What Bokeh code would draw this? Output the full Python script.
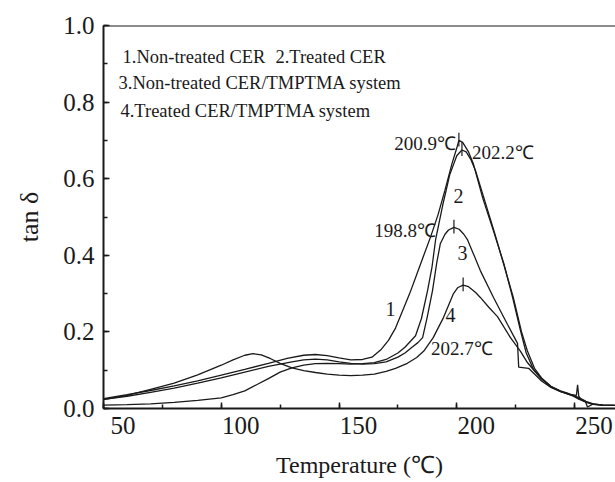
from bokeh.plotting import figure
from bokeh.models import Range1d, LinearAxis, SingleIntervalTicker, FixedTicker, PrintfTickFormatter, Span
from bokeh.core.properties import value
from bokeh.embed import file_html
from bokeh.resources import INLINE

# ---- data ----
t1 = [50, 60, 70, 80, 90, 100, 110, 120, 128, 135, 140, 145, 150, 155, 160, 164, 168, 171, 174, 177,
      180, 183, 186, 189, 192, 195, 198, 200, 200.9, 202.5, 205, 207, 211, 215.5, 220, 223.7, 227,
      229.5, 232.6, 236, 240, 244, 247, 249.5, 252, 255, 258, 262, 267]
v1 = [0.026, 0.036, 0.047, 0.059, 0.072, 0.087, 0.102, 0.118, 0.131, 0.139, 0.141, 0.138, 0.132, 0.127,
      0.128, 0.134, 0.155, 0.178, 0.21, 0.255, 0.30, 0.35, 0.40, 0.45, 0.505, 0.57, 0.64, 0.68, 0.70,
      0.695, 0.67, 0.64, 0.55, 0.465, 0.378, 0.29, 0.205, 0.145, 0.102, 0.078, 0.056, 0.045, 0.038,
      0.032, 0.024, 0.017, 0.011, 0.009, 0.008]

t2 = [50, 60, 70, 80, 90, 100, 105, 110, 115, 120, 125, 130, 135, 140, 145, 150, 155, 160, 165, 170,
      175, 178, 182.5, 185, 187.6, 189.5, 191, 194, 197, 200, 202.2, 204, 206, 208, 212, 216, 220, 224,
      227.5, 230, 233, 236, 240, 244, 247, 249.5, 252, 255, 258, 262, 267]
v2 = [0.009, 0.010, 0.012, 0.016, 0.021, 0.028, 0.036, 0.046, 0.062, 0.078, 0.095, 0.106, 0.113, 0.117,
      0.118, 0.117, 0.116, 0.117, 0.12, 0.128, 0.145, 0.16, 0.19, 0.235, 0.308, 0.37, 0.44, 0.53, 0.61,
      0.66, 0.675, 0.67, 0.65, 0.62, 0.54, 0.46, 0.375, 0.29, 0.2, 0.15, 0.105, 0.08, 0.058, 0.046,
      0.04, 0.034, 0.025, 0.018, 0.012, 0.009, 0.008]

t3 = [50, 60, 70, 80, 90, 100, 110, 120, 130, 135, 140, 145, 150, 155, 160, 165, 170, 175, 178, 181,
      183.5, 185.5, 187.5, 189.7, 191.5, 193, 195, 196.5, 198.8, 201, 203, 204.6, 207, 210, 215.6,
      221.5, 225.8, 226.3, 230.5, 233, 236, 240, 244, 248, 250, 252, 254.5, 255.5, 258, 262, 267]
v3 = [0.024, 0.032, 0.042, 0.053, 0.066, 0.08, 0.095, 0.11, 0.122, 0.127, 0.129, 0.127, 0.122, 0.118,
      0.116, 0.117, 0.122, 0.134, 0.145, 0.16, 0.172, 0.185, 0.24, 0.308, 0.38, 0.43, 0.455, 0.466,
      0.473, 0.468, 0.455, 0.44, 0.405, 0.36, 0.29, 0.22, 0.17, 0.108, 0.105, 0.09, 0.072, 0.055,
      0.044, 0.036, 0.033, 0.028, 0.02, 0.004, 0.012, 0.009, 0.008]

t4 = [50, 60, 70, 80, 90, 100, 105, 110, 113.5, 117, 121, 125, 130, 135, 140, 145, 150, 155, 160, 165,
      170, 174, 179, 183, 186, 190, 194.4, 198.6, 200.5, 202.7, 205, 208, 210, 213.5, 217.3, 222.8,
      227, 230, 233, 236, 240, 244, 248, 250.8, 251.3, 251.8, 253, 255, 258, 262, 267]
v4 = [0.023, 0.034, 0.05, 0.066, 0.088, 0.113, 0.127, 0.139, 0.143, 0.14, 0.13, 0.118, 0.106, 0.099,
      0.094, 0.09, 0.087, 0.086, 0.087, 0.09, 0.097, 0.105, 0.118, 0.133, 0.15, 0.185, 0.238, 0.30,
      0.316, 0.322, 0.318, 0.303, 0.29, 0.265, 0.24, 0.185, 0.15, 0.12, 0.098, 0.077, 0.057, 0.045,
      0.037, 0.034, 0.062, 0.032, 0.022, 0.016, 0.011, 0.009, 0.008]

peak_t = [200.9, 202.2, 198.8, 202.7]
peak_v = [0.70, 0.675, 0.473, 0.322]
peak_text = ["200.9\u2103", "202.2\u2103", "198.8\u2103", "202.7\u2103"]

curve_names = ["1", "2", "3", "4"]
curve_name_t = [171.9, 200.7, 202.4, 197.3]
curve_name_v = [0.261, 0.556, 0.407, 0.243]

legend_text = ["1.Non-treated CER", "2.Treated CER", "3.Non-treated CER/TMPTMA system",
               "4.Treated CER/TMPTMA system"]
legend_t = [58.1, 123.0, 56.4, 57.2]
legend_v = [0.919, 0.919, 0.851, 0.778]

x_ticks = [50, 100, 150, 200, 250]
x_label_shift = 8.3

FONT = "Liberation Serif"
INK = "#1a1a1a"

p = figure(width=615, height=482, output_backend="svg", toolbar_location=None,
           x_range=Range1d(50, 267.4), y_range=Range1d(0, 1),
           x_axis_location=None, y_axis_location="left",
           min_border_left=103, min_border_right=0, min_border_top=25, min_border_bottom=74)
p.outline_line_color = None
p.grid.visible = False
p.background_fill_color = "white"
p.border_fill_color = "white"

# bottom axis: line + ticks at true positions, no labels drawn
xa = LinearAxis(ticker=SingleIntervalTicker(interval=50, num_minor_ticks=2))
xa.major_label_text_color = None
xa.major_label_text_font_size = "1px"
xa.major_label_standoff = 0
p.add_layout(xa, "below")

# labels (offset to the right, as in the scan)
p.extra_x_ranges = {"lab": Range1d(50 - x_label_shift, 267.4 - x_label_shift)}
xl = LinearAxis(x_range_name="lab", ticker=FixedTicker(ticks=x_ticks))
xl.axis_line_color = None
xl.major_tick_line_color = None
xl.minor_tick_line_color = None
xl.major_label_standoff = 2
xl.major_label_text_font = FONT
xl.major_label_text_font_size = "25px"
xl.major_label_text_color = INK
xl.axis_label = "Temperature (\u2103)"
xl.axis_label_text_font = FONT
xl.axis_label_text_font_size = "24px"
xl.axis_label_text_font_style = "normal"
xl.axis_label_text_color = INK
xl.axis_label_standoff = 15
p.add_layout(xl, "below")

for ax in (xa, p.yaxis[0]):
    ax.axis_line_width = 2
    ax.axis_line_color = INK
    ax.major_tick_in = 6
    ax.major_tick_out = 0
    ax.minor_tick_in = 4
    ax.minor_tick_out = 0
    ax.major_tick_line_color = INK
    ax.minor_tick_line_color = INK
    ax.major_tick_line_width = 1.5
    ax.minor_tick_line_width = 1.5

ya = p.yaxis[0]
ya.ticker = SingleIntervalTicker(interval=0.2, num_minor_ticks=2)
ya.formatter = PrintfTickFormatter(format="%.1f")
ya.major_label_text_font = FONT
ya.major_label_text_font_size = "25px"
ya.major_label_text_color = INK
ya.major_label_standoff = 9
ya.axis_label = "tan \u03b4"
ya.axis_label_text_font = FONT
ya.axis_label_text_font_size = "26px"
ya.axis_label_text_font_style = "normal"
ya.axis_label_text_color = INK
ya.axis_label_standoff = 16

p.add_layout(Span(location=1.0, dimension="width", line_color=INK, line_width=2))

for t, v in ((t1, v1), (t2, v2), (t3, v3), (t4, v4)):
    p.line(t, v, line_color=INK, line_width=1.3)

# peak markers
p.segment(x0=peak_t, y0=[v - 0.016 for v in peak_v], x1=peak_t, y1=[v + 0.02 for v in peak_v],
          line_color=INK, line_width=1.2)

# peak temperature labels
offs = [(-3, 3, "right"), (10, 3, "left"), (-18, 3, "right"), (-32, 63, "left")]
for i in range(4):
    p.text(x=[peak_t[i]], y=[peak_v[i]], text=[peak_text[i]], x_offset=offs[i][0], y_offset=offs[i][1],
           text_align=offs[i][2], text_baseline="middle", text_font=value(FONT),
           text_font_size=value("19px"), text_color=INK)

p.text(x=curve_name_t, y=curve_name_v, text=curve_names, text_align="center", text_baseline="middle",
       text_font=value(FONT), text_font_size=value("20px"), text_color=INK)

p.text(x=legend_t, y=legend_v, text=legend_text, text_align="left", text_baseline="middle",
       text_font=value(FONT), text_font_size=value("18.5px"), text_color=INK)

open("out.html", "w").write(file_html(p, INLINE))
